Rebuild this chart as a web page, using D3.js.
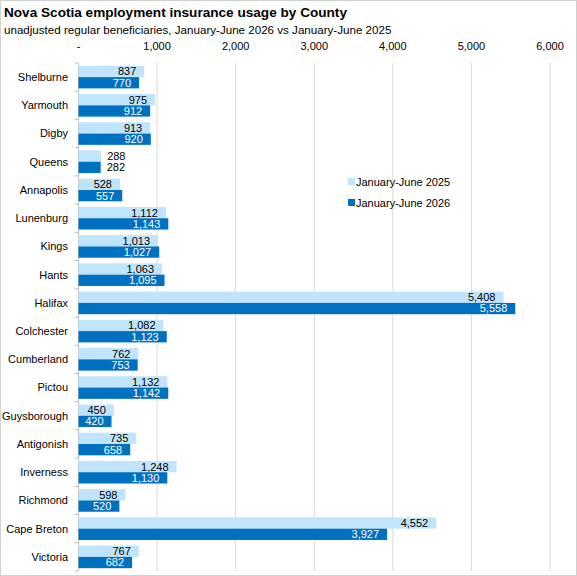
<!DOCTYPE html>
<html>
<head>
<meta charset="utf-8">
<script src="https://cdn.jsdelivr.net/npm/d3@7.9.0/dist/d3.min.js"></script>
<style>
  body { margin: 0; background: #fff; }
  svg { font-family: "Liberation Sans", Arial, sans-serif; }
</style>
</head>
<body>
<svg id="chart" width="577" height="576"></svg>
<script>
const counties = ['Shelburne', 'Yarmouth', 'Digby', 'Queens', 'Annapolis', 'Lunenburg', 'Kings', 'Hants',
  'Halifax', 'Colchester', 'Cumberland', 'Pictou', 'Guysborough', 'Antigonish', 'Inverness', 'Richmond',
  'Cape Breton', 'Victoria'];
const jun2025 = [837, 975, 913, 288, 528, 1112, 1013, 1063, 5408, 1082, 762, 1132, 450, 735, 1248, 598, 4552, 767];
const jun2026 = [770, 912, 920, 282, 557, 1143, 1027, 1095, 5558, 1123, 753, 1142, 420, 658, 1130, 520, 3927, 682];
const xTicks = [0, 1000, 2000, 3000, 4000, 5000, 6000];
const seriesNames = ['January-June 2025', 'January-June 2026'];
const colors = ['#c0e4fb', '#0070c0'];

const svg = d3.select('#chart');
const W = 577, H = 576;
const margin = { left: 78.5, right: 27, top: 63, bottom: 5 };

svg.append('rect')
  .attr('x', 0.5).attr('y', 0.5).attr('width', W - 1).attr('height', H - 1)
  .attr('fill', '#fff').attr('stroke', '#d0d0d0');

svg.append('text')
  .attr('x', 4).attr('y', 17)
  .attr('font-size', 13.6).attr('font-weight', 'bold').attr('fill', '#000')
  .text('Nova Scotia employment insurance usage by County');
svg.append('text')
  .attr('x', 4).attr('y', 34)
  .attr('font-size', 11.6).attr('fill', '#000')
  .text('unadjusted regular beneficiaries, January-June 2026 vs January-June 2025');

const x = d3.scaleLinear().domain([0, 6000]).range([margin.left, W - margin.right]);
const y = d3.scaleBand().domain(counties).range([margin.top, H - margin.bottom]).paddingInner(0.2).paddingOuter(0.1);
const ySeries = d3.scaleBand().domain([0, 1]).range([0, y.bandwidth()]);

// gridlines
svg.append('g')
  .selectAll('line')
  .data(xTicks.slice(1))
  .join('line')
  .attr('x1', d => x(d)).attr('x2', d => x(d))
  .attr('y1', margin.top).attr('y2', H - margin.bottom)
  .attr('stroke', '#d9d9d9').attr('stroke-width', 1);

// top axis labels
const fmt = d => d === 0 ? '-' : d3.format(',')(d);
svg.append('g')
  .selectAll('text')
  .data(xTicks)
  .join('text')
  .attr('x', d => x(d)).attr('y', 50)
  .attr('text-anchor', 'middle')
  .attr('font-size', 11).attr('fill', '#000')
  .text(fmt);

// left axis
const step = y.step();
const yAxis = svg.append('g');
yAxis.append('line')
  .attr('x1', margin.left).attr('x2', margin.left)
  .attr('y1', margin.top).attr('y2', H - margin.bottom)
  .attr('stroke', '#bfbfbf');
yAxis.selectAll('line.tick')
  .data(d3.range(counties.length + 1))
  .join('line')
  .attr('class', 'tick')
  .attr('x1', margin.left - 4).attr('x2', margin.left)
  .attr('y1', i => margin.top + i * step).attr('y2', i => margin.top + i * step)
  .attr('stroke', '#bfbfbf');
yAxis.selectAll('text')
  .data(counties)
  .join('text')
  .attr('x', 68)
  .attr('y', d => y(d) + y.bandwidth() / 2)
  .attr('dy', '0.35em')
  .attr('text-anchor', 'end')
  .attr('font-size', 11).attr('fill', '#000')
  .text(d => d);

// bars
const series = [jun2025, jun2026];
series.forEach((vals, s) => {
  const g = svg.append('g');
  g.selectAll('rect')
    .data(counties)
    .join('rect')
    .attr('x', x(0))
    .attr('y', (d, i) => y(d) + ySeries(s))
    .attr('width', (d, i) => x(vals[i]) - x(0))
    .attr('height', ySeries.bandwidth())
    .attr('fill', colors[s]);

  g.selectAll('text')
    .data(counties)
    .join('text')
    .attr('x', (d, i) => vals[i] < 400 ? x(vals[i]) + 6 : x(vals[i]) - 8)
    .attr('y', (d, i) => y(d) + ySeries(s) + ySeries.bandwidth() / 2)
    .attr('dy', '0.36em')
    .attr('text-anchor', (d, i) => vals[i] < 400 ? 'start' : 'end')
    .attr('font-size', 11)
    .attr('fill', (d, i) => (s === 1 && vals[i] >= 400) ? '#fff' : '#000')
    .text((d, i) => d3.format(',')(vals[i]));
});

// legend
const legend = svg.append('g').attr('transform', 'translate(348,182)');
seriesNames.forEach((name, i) => {
  const row = legend.append('g').attr('transform', `translate(0,${i * 21})`);
  row.append('rect').attr('x', 0).attr('y', -4).attr('width', 7).attr('height', 7).attr('fill', colors[i]);
  row.append('text').attr('x', 8).attr('y', 0).attr('dy', '0.35em')
    .attr('font-size', 11).attr('fill', '#000').text(name);
});
</script>
</body>
</html>
